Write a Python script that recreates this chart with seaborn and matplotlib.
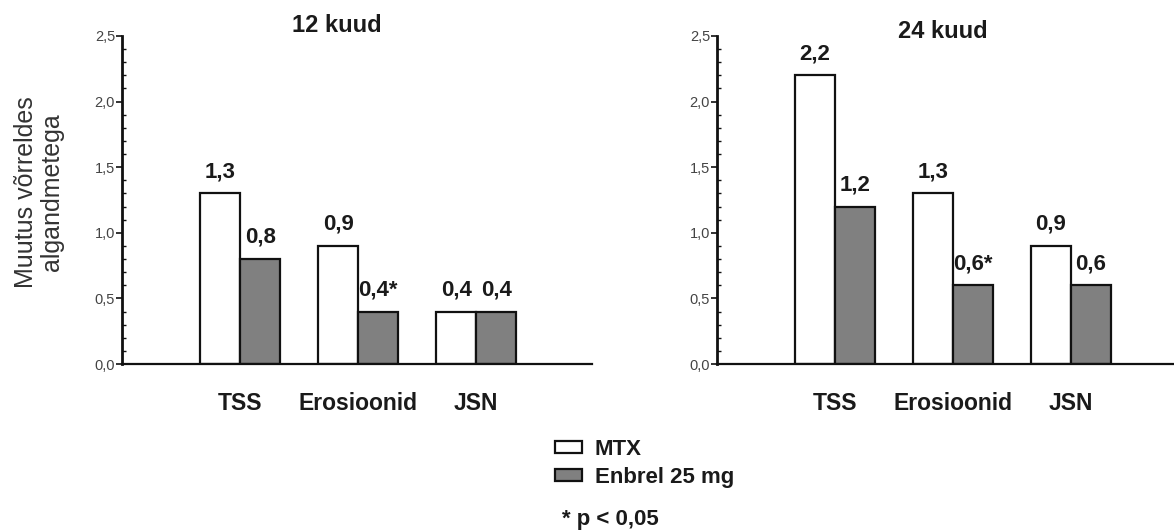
import matplotlib
matplotlib.use("Agg")
import matplotlib.pyplot as plt
from matplotlib.ticker import MultipleLocator, FuncFormatter
import seaborn as sns
import pandas as pd

# Data
categories = ["TSS", "Erosioonid", "JSN"]
series = ["MTX", "Enbrel 25 mg"]
mtx_12 = [1.3, 0.9, 0.4]
enbrel_12 = [0.8, 0.4, 0.4]
stars_12 = ["", "*", ""]
mtx_24 = [2.2, 1.3, 0.9]
enbrel_24 = [1.2, 0.6, 0.6]
stars_24 = ["", "*", ""]
panel_titles = ["12 kuud", "24 kuud"]
y_label = "Muutus võrreldes\nalgandmetega"
footnote = "* p < 0,05"

sns.set_theme(style="white")
plt.rcParams["font.family"] = ["Liberation Sans", "DejaVu Sans"]

palette = {"MTX": "#ffffff", "Enbrel 25 mg": "#808080"}
text_col = "#1a1a1a"

fig = plt.figure(figsize=(11.74, 5.30), dpi=100)
ax_l = fig.add_axes([122 / 1174, 166 / 530, 470 / 1174, 328 / 530])
ax_r = fig.add_axes([717 / 1174, 166 / 530, 457 / 1174, 328 / 530])


def comma(v):
    return f"{v:.1f}".replace(".", ",")


def draw_panel(ax, mtx, enb, stars, xmax):
    df = pd.DataFrame({
        "kategooria": categories * 2,
        "rühm": [series[0]] * 3 + [series[1]] * 3,
        "väärtus": list(mtx) + list(enb),
    })
    sns.barplot(data=df, x="kategooria", y="väärtus", hue="rühm",
                hue_order=series, order=categories, palette=palette,
                width=0.68, edgecolor="#111111", linewidth=1.6,
                errorbar=None, ax=ax, legend=True)
    cont_m, cont_e = ax.containers[0], ax.containers[1]
    ax.bar_label(cont_m, labels=[comma(v) for v in mtx], padding=8,
                 fontsize=16, fontweight="bold", color=text_col)
    ax.bar_label(cont_e, labels=[comma(v) + s for v, s in zip(enb, stars)],
                 padding=8, fontsize=16, fontweight="bold", color=text_col)
    ax.set_xlim(-1, xmax)
    ax.set_ylim(0, 2.5)
    ax.yaxis.set_major_locator(MultipleLocator(0.5))
    ax.yaxis.set_minor_locator(MultipleLocator(0.1))
    ax.yaxis.set_major_formatter(FuncFormatter(lambda v, p: comma(v)))
    ax.tick_params(axis="y", which="major", direction="out", length=4,
                   width=1.2, color="#111111", labelsize=10.5,
                   labelcolor="#444444", pad=1, left=True)
    ax.tick_params(axis="y", which="minor", direction="in", length=3,
                   width=1.0, color="#111111", left=True)
    ax.tick_params(axis="x", length=0, pad=20)
    for lab in ax.get_xticklabels():
        lab.set_fontweight("bold")
        lab.set_fontsize(16.5)
        lab.set_color(text_col)
    ax.set_xlabel("")
    ax.set_ylabel("")
    for side in ["top", "right"]:
        ax.spines[side].set_visible(False)
    ax.spines["left"].set_linewidth(2.0)
    ax.spines["left"].set_color("#111111")
    ax.spines["bottom"].set_linewidth(1.6)
    ax.spines["bottom"].set_color("#111111")
    ax.set_facecolor("white")


draw_panel(ax_l, mtx_12, enbrel_12, stars_12, 2.98)
draw_panel(ax_r, mtx_24, enbrel_24, stars_24, 2.873)

handles, labels = ax_l.get_legend_handles_labels()
ax_l.get_legend().remove()
ax_r.get_legend().remove()

leg = fig.legend(handles, labels, loc="upper left",
                 bbox_to_anchor=(555 / 1174, 1 - 439 / 530),
                 frameon=False, borderpad=0, borderaxespad=0,
                 handlelength=1.2, handleheight=0.45, handletextpad=0.6,
                 labelspacing=0.3, prop={"weight": "bold", "size": 16})
for t in leg.get_texts():
    t.set_color(text_col)

fig.text(337 / 1174, 1 - 25 / 530, panel_titles[0], ha="center", va="center",
         fontsize=17, fontweight="bold", color=text_col)
fig.text(943 / 1174, 1 - 31 / 530, panel_titles[1], ha="center", va="center",
         fontsize=17, fontweight="bold", color=text_col)
fig.text(39 / 1174, 1 - 192 / 530, y_label, ha="center", va="center",
         rotation=90, fontsize=18, color="#333333", linespacing=1.15)
fig.text(562 / 1174, 1 - 519 / 530, footnote, ha="left", va="center",
         fontsize=16, fontweight="bold", color=text_col)

fig.savefig("out.png", dpi=100, facecolor="white")
